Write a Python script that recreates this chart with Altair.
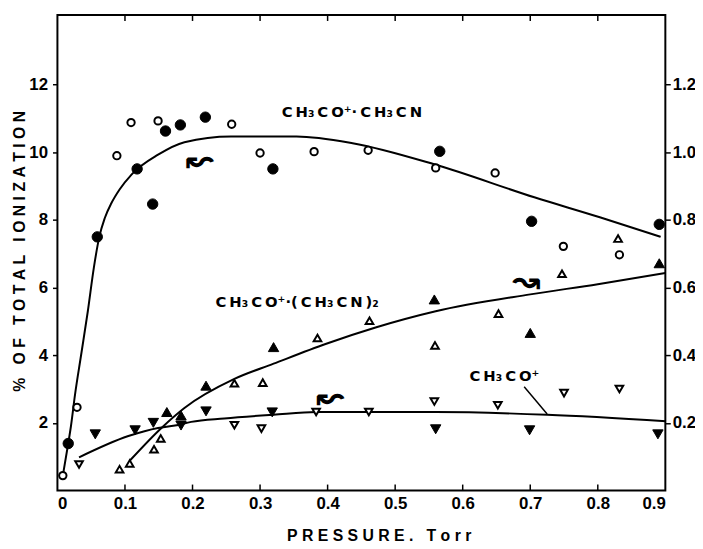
import altair as alt
import pandas as pd

# ---------------- data ----------------
# CH3CO+.CH3CN  (circles)
a_open_x = [0.008, 0.029, 0.088, 0.109, 0.149, 0.258, 0.300, 0.380, 0.460, 0.560, 0.648, 0.749, 0.832]
a_open_y = [0.44, 2.46, 9.90, 10.88, 10.93, 10.83, 9.98, 10.02, 10.06, 9.54, 9.39, 7.22, 6.97]
a_fill_x = [0.016, 0.059, 0.118, 0.141, 0.160, 0.182, 0.219, 0.319, 0.566, 0.702, 0.891]
a_fill_y = [1.39, 7.50, 9.51, 8.47, 10.63, 10.81, 11.04, 9.51, 10.03, 7.96, 7.87]
a_curve_x = [0.008, 0.016, 0.020, 0.026, 0.035, 0.045, 0.054, 0.062, 0.070, 0.080, 0.092, 0.110, 0.149, 0.188, 0.257, 0.354, 0.437, 0.559, 0.706, 0.803, 0.893]
a_curve_y = [0.44, 1.39, 1.90, 2.83, 4.00, 5.30, 6.60, 7.50, 8.05, 8.50, 8.90, 9.35, 9.93, 10.30, 10.47, 10.47, 10.27, 9.64, 8.67, 8.08, 7.50]

# CH3CO+.(CH3CN)2  (up triangles)
b_open_x = [0.092, 0.107, 0.143, 0.153, 0.262, 0.304, 0.385, 0.462, 0.559, 0.653, 0.747, 0.830]
b_open_y = [0.63, 0.80, 1.22, 1.54, 3.17, 3.19, 4.51, 5.02, 4.29, 5.23, 6.41, 7.45]
b_fill_x = [0.162, 0.183, 0.220, 0.320, 0.558, 0.700, 0.891]
b_fill_y = [2.32, 2.22, 3.10, 4.24, 5.65, 4.66, 6.72]
b_curve_x = [0.107, 0.154, 0.188, 0.262, 0.320, 0.398, 0.471, 0.560, 0.700, 0.800, 0.900]
b_curve_y = [0.88, 1.85, 2.44, 3.30, 3.75, 4.34, 4.82, 5.30, 5.80, 6.10, 6.43]

# CH3CO+  (down triangles)
c_open_x = [0.032, 0.262, 0.302, 0.383, 0.461, 0.558, 0.652, 0.750, 0.832]
c_open_y = [0.77, 1.93, 1.83, 2.32, 2.32, 2.63, 2.52, 2.88, 3.00]
c_fill_x = [0.056, 0.115, 0.142, 0.183, 0.220, 0.318, 0.560, 0.699, 0.889]
c_fill_y = [1.66, 1.78, 2.00, 1.92, 2.34, 2.31, 1.81, 1.78, 1.66]
c_curve_x = [0.032, 0.105, 0.149, 0.174, 0.198, 0.247, 0.320, 0.384, 0.559, 0.725, 0.901]
c_curve_y = [0.98, 1.61, 1.85, 1.92, 2.03, 2.13, 2.24, 2.32, 2.32, 2.24, 2.05]

# leader line from the CH3CO+ label
lead_x = [0.691, 0.725]
lead_y = [3.07, 2.26]

# text labels (data coordinates)
T = "\u2009"
lab_text = [T.join(["C", "H\u2083", "C", "O\u207a\u00b7", "C", "H\u2083", "C", "N"]),
            T.join(["C", "H\u2083", "C", "O\u207a\u00b7(", "C", "H\u2083", "C", "N", ")\u2082"]),
            T.join(["C", "H\u2083", "C", "O\u207a"])]
lab_x = [0.332, 0.234, 0.610]
lab_y = [11.2, 5.56, 3.37]

arrow_text = ["\u219c", "\u219c", "\u219d"]
arrow_x = [0.211, 0.404, 0.694]
arrow_y = [9.74, 2.73, 6.15]

x_ticks = [0, 0.1, 0.2, 0.3, 0.4, 0.5, 0.6, 0.7, 0.8, 0.9]
inner_ticks = [0.1, 0.2, 0.3, 0.4, 0.5, 0.6, 0.7, 0.8]
y_ticks = [2, 4, 6, 8, 10, 12]

# ---------------- chart ----------------
FONT = "Liberation Sans, sans-serif"
LFONT = "DejaVu Sans"
W, H = 615, 481
YMAX = 14.06
S = "\u00a0"

xs = alt.Scale(domain=[0, 0.9], nice=False, zero=False)
ys = alt.Scale(domain=[0, YMAX], nice=False, zero=False)

x_title = S.join(list("PRESSURE.")) + S * 3 + S.join(list("Torr"))
y_title = "%" + S * 3 + S.join(list("OF")) + S * 3 + S.join(list("TOTAL")) + S * 3 + S.join(list("IONIZATION"))

X = alt.X("x:Q", scale=xs, axis=alt.Axis(
    values=x_ticks, labelExpr="datum.value == 0 ? '0' : format(datum.value, '.1f')",
    ticks=False, tickSize=0, domain=False, grid=False, labelPadding=5,
    labelFont=FONT, labelFontSize=17, labelFontWeight="bold", labelColor="black",
    title=x_title, titleFont=FONT, titleFontSize=16, titleFontWeight="bold", titleColor="black",
    titleX=325, titleY=46, titleAlign="center", titleBaseline="middle"))
Y = alt.Y("y:Q", scale=ys, axis=alt.Axis(
    values=y_ticks, format="d", ticks=True, tickSize=5, tickWidth=1.5, tickColor="black",
    domain=False, grid=False, labelPadding=5,
    labelFont=FONT, labelFontSize=17, labelFontWeight="bold", labelColor="black",
    title=y_title, titleFont=FONT, titleFontSize=16, titleFontWeight="bold", titleColor="black",
    titleX=-38, titleY=H / 2 - 2, titleAngle=-90, titleAlign="center", titleBaseline="middle"))


def df(xv, yv):
    return pd.DataFrame({"x": xv, "y": yv})


line_props = dict(color="black", strokeWidth=2, interpolate="monotone")
curves = [alt.Chart(df(cx, cy)).mark_line(**line_props).encode(x=X, y=Y)
          for cx, cy in [(a_curve_x, a_curve_y), (b_curve_x, b_curve_y), (c_curve_x, c_curve_y)]]
leader = alt.Chart(df(lead_x, lead_y)).mark_line(color="black", strokeWidth=1.5).encode(x=X, y=Y)


def pts(xv, yv, shape, filled, size):
    if filled:
        m = alt.Chart(df(xv, yv)).mark_point(shape=shape, filled=True, fill="black", stroke="black",
                                             strokeWidth=1, size=size, opacity=1)
    else:
        m = alt.Chart(df(xv, yv)).mark_point(shape=shape, filled=True, fill="white", stroke="black",
                                             strokeWidth=2, size=size, opacity=1, fillOpacity=1)
    return m.encode(x=X, y=Y)


points = [
    pts(a_open_x, a_open_y, "circle", False, 55),
    pts(a_fill_x, a_fill_y, "circle", True, 110),
    pts(b_open_x, b_open_y, "triangle-up", False, 60),
    pts(b_fill_x, b_fill_y, "triangle-up", True, 110),
    pts(c_open_x, c_open_y, "triangle-down", False, 60),
    pts(c_fill_x, c_fill_y, "triangle-down", True, 110),
]

labels = alt.Chart(pd.DataFrame({"x": lab_x, "y": lab_y, "t": lab_text})).mark_text(
    align="left", baseline="middle", font=LFONT, fontSize=15, fontWeight="bold", color="black"
).encode(x=X, y=Y, text="t:N")

arrows = alt.Chart(pd.DataFrame({"x": arrow_x, "y": arrow_y, "t": arrow_text})).mark_text(
    align="center", baseline="middle", font="DejaVu Sans", fontSize=34, fontWeight="bold", color="black"
).encode(x=X, y=Y, text="t:N")

tick_df = pd.DataFrame({"x": inner_ticks})
bottom_ticks = alt.Chart(tick_df).mark_rule(color="black", strokeWidth=1.5).encode(
    x=X, y=alt.value(H), y2=alt.value(H - 6))
top_ticks = alt.Chart(tick_df).mark_rule(color="black", strokeWidth=1.5).encode(
    x=X, y=alt.value(0), y2=alt.value(6))

main = alt.layer(*curves, leader, *points, labels, arrows, bottom_ticks, top_ticks)

right_axis = alt.Chart(pd.DataFrame({"y": y_ticks})).mark_rule(opacity=0).encode(
    y=alt.Y("y:Q", scale=ys, axis=alt.Axis(
        orient="right", values=y_ticks, labelExpr="format(datum.value / 10, '.1f')",
        ticks=True, tickSize=5, tickWidth=1.5, tickColor="black", domain=False, grid=False,
        labelPadding=2, labelFont=FONT, labelFontSize=17, labelFontWeight="bold",
        labelColor="black", title=None)))

chart = alt.layer(main, right_axis).resolve_scale(y="independent").properties(
    width=W, height=H,
    autosize=alt.AutoSizeParams(type="none"),
    padding={"left": 50, "top": 4, "right": 30, "bottom": 50},
    background="white",
).configure_view(stroke="black", strokeWidth=2)

chart.save("out.html", embed_options={"renderer": "svg", "actions": False})
